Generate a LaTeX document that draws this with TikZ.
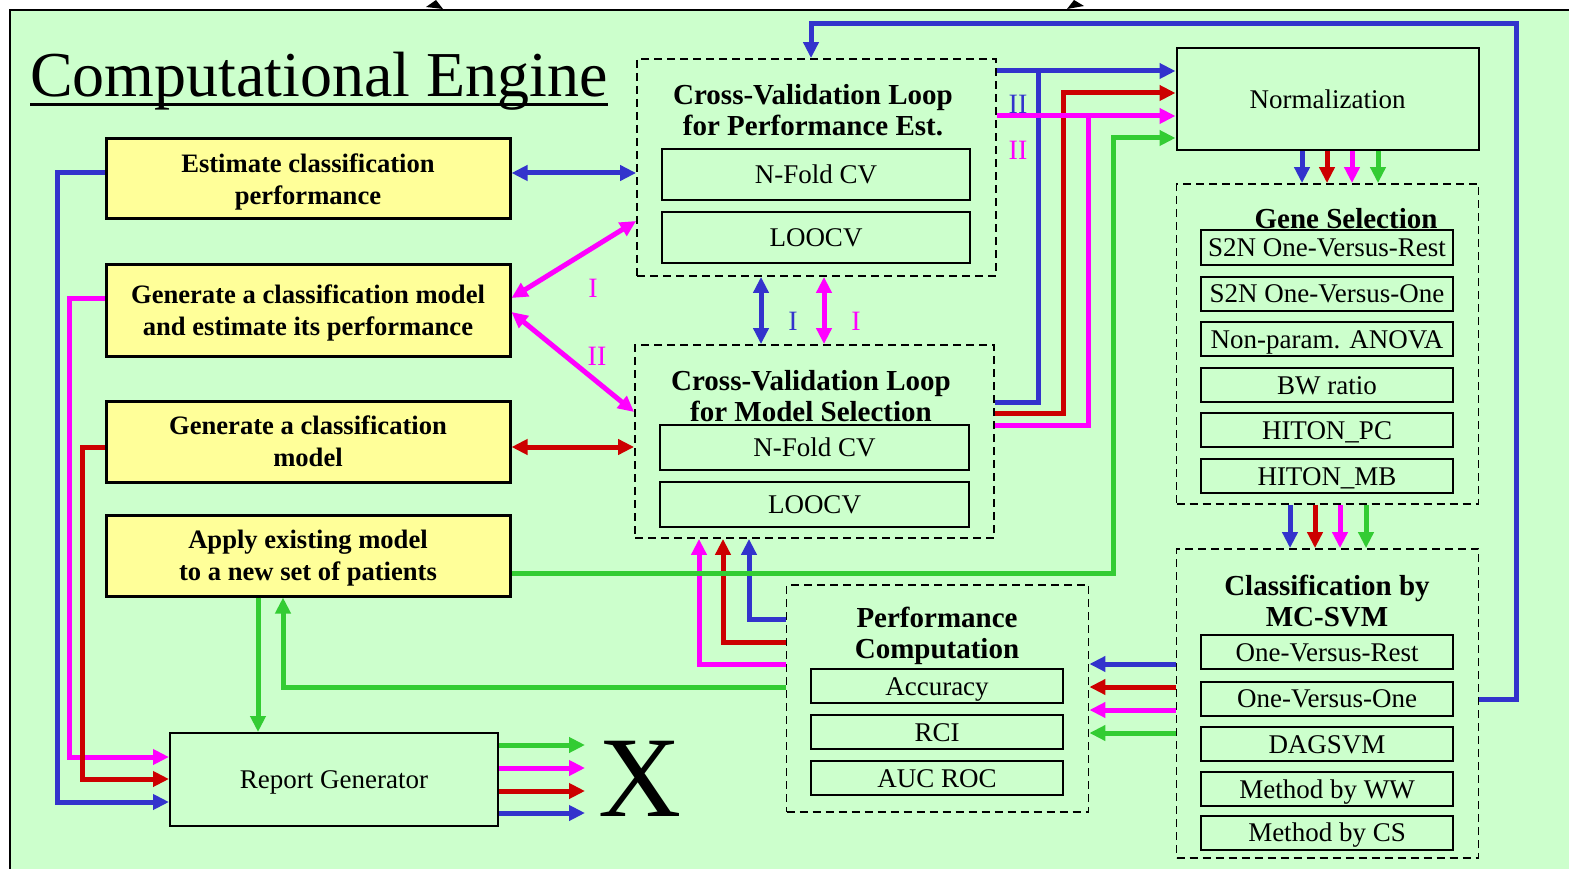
\documentclass[tikz,border=0pt]{standalone}
\usepackage{fontspec}
\setmainfont{Liberation Serif}
\usetikzlibrary{arrows.meta}
\definecolor{bgG}{HTML}{CCFFCC}
\definecolor{yelC}{HTML}{FFFF99}
\definecolor{cB}{HTML}{3333CC}
\definecolor{cR}{HTML}{CC0000}
\definecolor{cM}{HTML}{FF00FF}
\definecolor{cG}{HTML}{33CC33}
\begin{document}
\begin{tikzpicture}[x=1pt,y=-1pt,
  ybox/.style={draw, line width=3pt, fill=yelC, minimum width=404pt, inner sep=0pt, align=center,
    text depth=-3pt, font=\bfseries\fontsize{26.6}{32}\selectfont},
  dbox/.style={draw, line width=1.8pt, dash pattern=on 8pt off 5pt, inner sep=0pt},
  sbox/.style={draw, line width=2pt, inner sep=0pt, text height=18.5pt, text depth=-1.5pt,
    font=\fontsize{27}{30}\selectfont},
  ibox/.style={sbox, minimum width=252pt, minimum height=34pt},
  ttl/.style={inner sep=0pt, align=center, font=\bfseries\fontsize{29}{31}\selectfont},
  rom/.style={inner sep=0pt, font=\fontsize{28}{30}\selectfont},
  ln/.style={line width=5pt},
  ar/.style={line width=5pt, -{Triangle[length=16pt,width=15pt]}},
  dar/.style={line width=5pt, {Triangle[length=16pt,width=15pt]}-{Triangle[length=16pt,width=15pt]}}
]
\useasboundingbox (0,0) rectangle (1569,869);
\fill[white] (0,0) rectangle (1569,869);
\fill[bgG] (10,10) rectangle (1580,880);
\draw[line width=2pt] (10,880) -- (10,10) -- (1580,10);
% cut-off arrowheads at the top
\fill (426,7) -- (436,0) -- (443,9) -- cycle;
\fill (1067,9) -- (1074,0) -- (1084,6) -- cycle;

% title
\node[inner sep=0pt, anchor=base west, font=\fontsize{64}{70}\selectfont] (title) at (30,97) {Computational Engine};
\draw[line width=3pt] ([yshift=-8pt]title.base west) -- ([yshift=-8pt]title.base east);

% yellow boxes
\node[ybox, minimum height=80pt] (est) at (308,179) {Estimate classification\\performance};
\node[ybox, minimum height=92pt] (genest) at (308,310) {Generate a classification model\\and estimate its performance};
\node[ybox, minimum height=81pt] (gen) at (308,441.5) {Generate a classification\\model};
\node[ybox, minimum height=81pt] (apply) at (308,555.5) {Apply existing model\\to a new set of patients};

% CV loop for performance estimation
\node[dbox, minimum width=359pt, minimum height=217pt] (cvp) at (816.5,167.5) {};
\node[ttl] (cvpt) at (813,110) {Cross-Validation Loop\\for Performance Est.};
\node[sbox, minimum width=308pt, minimum height=51pt] (cvpn) at (816,174.5) {N-Fold CV};
\node[sbox, minimum width=308pt, minimum height=51pt] (cvpl) at (816,237.5) {LOOCV};

% CV loop for model selection
\node[dbox, minimum width=359pt, minimum height=193pt] (cvm) at (814.5,441.5) {};
\node[ttl] (cvmt) at (811,396) {Cross-Validation Loop\\for Model Selection};
\node[sbox, minimum width=309pt, minimum height=45pt] (cvmn) at (814.5,447.5) {N-Fold CV};
\node[sbox, minimum width=309pt, minimum height=45pt] (cvml) at (814.5,504.5) {LOOCV};

% normalization
\node[sbox, minimum width=302pt, minimum height=102pt] (norm) at (1327.5,99) {Normalization};

% gene selection
\node[dbox, minimum width=302pt, minimum height=320pt] (gs) at (1327.5,344) {};
\node[ttl] (gst) at (1346,219) {Gene Selection};
\node[ibox] (g1) at (1327,247.5) {S2N One-Versus-Rest};
\node[ibox] (g2) at (1327,293.5) {S2N One-Versus-One};
\node[ibox] (g3) at (1327,339) {Non-param. ANOVA};
\node[ibox] (g4) at (1327,385) {BW ratio};
\node[ibox] (g5) at (1327,430) {HITON\_PC};
\node[ibox] (g6) at (1327,476) {HITON\_MB};

% classification by MC-SVM
\node[dbox, minimum width=302pt, minimum height=309pt] (mc) at (1327.5,703.5) {};
\node[ttl] (mct) at (1327,601) {Classification by\\MC-SVM};
\node[ibox] (m1) at (1327,652) {One-Versus-Rest};
\node[ibox] (m2) at (1327,698.5) {One-Versus-One};
\node[ibox] (m3) at (1327,744) {DAGSVM};
\node[ibox] (m4) at (1327,789) {Method by WW};
\node[ibox] (m5) at (1327,832.5) {Method by CS};

% performance computation
\node[dbox, minimum width=302pt, minimum height=227pt] (perf) at (937.5,698.5) {};
\node[ttl] (perft) at (937,636) {Performance\\Computation};
\node[ibox] (p1) at (937,686) {Accuracy};
\node[ibox] (p2) at (937,732) {RCI};
\node[ibox] (p3) at (937,778) {AUC ROC};

% report generator and X
\node[sbox, minimum width=328pt, minimum height=93pt] (rep) at (334,779.5) {Report Generator};
\node[inner sep=0pt, font=\fontsize{115}{115}\selectfont] (X) at (640,779) {X};
\coordinate (xo) at (585,0);

% roman labels
\node[rom, text=cM] (l1) at (593,288) {I};
\node[rom, text=cM] (l2) at (597,356) {II};
\node[rom, text=cB] (l3) at (793,321) {I};
\node[rom, text=cM] (l4) at (856,321) {I};
\node[rom, text=cB] (l5) at (1018,104) {II};
\node[rom, text=cM] (l6) at (1018,150) {II};

% double arrows between boxes
\draw[dar, cB] (est.east |- 0,173) -- (cvp.west |- 0,173);
\draw[dar, cR] (gen.east |- 0,447) -- (cvm.west |- 0,447);
\draw[dar, cM] (genest.east |- 0,298) -- (cvp.west |- 0,221);
\draw[dar, cM] (genest.east |- 0,312) -- (cvm.west |- 0,412);
\draw[dar, cB] (cvp.south -| 761,0) -- (cvm.north -| 761,0);
\draw[dar, cM] (cvp.south -| 824,0) -- (cvm.north -| 824,0);

% left side to report generator
\draw[ar, cB] (est.west |- 0,173) -- (57,173) -- (57,802) -- (rep.west |- 0,802);
\draw[ar, cM] (genest.west |- 0,298) -- (69,298) -- (69,757) -- (rep.west |- 0,757);
\draw[ar, cR] (gen.west |- 0,447) -- (82,447) -- (82,779) -- (rep.west |- 0,779);

% report generator outputs
\draw[ar, cG] (rep.east |- 0,745) -- (xo |- 0,745);
\draw[ar, cM] (rep.east |- 0,768) -- (xo |- 0,768);
\draw[ar, cR] (rep.east |- 0,791) -- (xo |- 0,791);
\draw[ar, cB] (rep.east |- 0,813) -- (xo |- 0,813);

% CV loops to normalization
\draw[ar, cB] (cvp.east |- 0,71) -- (norm.west |- 0,71);
\draw[ln, cB] (cvm.east |- 0,402) -- (1038,402) -- (1038,71);
\draw[ar, cR] (cvm.east |- 0,413) -- (1063,413) -- (1063,93) -- (norm.west |- 0,93);
\draw[ar, cM] (cvp.east |- 0,116) -- (norm.west |- 0,116);
\draw[ln, cM] (cvm.east |- 0,425) -- (1088,425) -- (1088,116);

% normalization to gene selection
\draw[ar, cB] (norm.south -| 1302,0) -- (gs.north -| 1302,0);
\draw[ar, cR] (norm.south -| 1327,0) -- (gs.north -| 1327,0);
\draw[ar, cM] (norm.south -| 1352,0) -- (gs.north -| 1352,0);
\draw[ar, cG] (norm.south -| 1378,0) -- (gs.north -| 1378,0);

% gene selection to classification
\draw[ar, cB] (gs.south -| 1290,0) -- (mc.north -| 1290,0);
\draw[ar, cR] (gs.south -| 1315,0) -- (mc.north -| 1315,0);
\draw[ar, cM] (gs.south -| 1340,0) -- (mc.north -| 1340,0);
\draw[ar, cG] (gs.south -| 1366,0) -- (mc.north -| 1366,0);

% classification to performance computation
\draw[ar, cB] (mc.west |- 0,664) -- (perf.east |- 0,664);
\draw[ar, cR] (mc.west |- 0,687) -- (perf.east |- 0,687);
\draw[ar, cM] (mc.west |- 0,710) -- (perf.east |- 0,710);
\draw[ar, cG] (mc.west |- 0,733) -- (perf.east |- 0,733);

% classification back to CV loop for performance estimation
\draw[ar, cB] (mc.east |- 0,699) -- (1516,699) -- (1516,24) -- (811,24) -- (cvp.north -| 811,0);

% performance computation to CV loop for model selection
\draw[ar, cB] (perf.west |- 0,619) -- (749,619) -- (cvm.south -| 749,0);
\draw[ar, cR] (perf.west |- 0,642) -- (723,642) -- (cvm.south -| 723,0);
\draw[ar, cM] (perf.west |- 0,664) -- (699,664) -- (cvm.south -| 699,0);

% green paths
\draw[ar, cG] (apply.east |- 0,573) -- (1113,573) -- (1113,138) -- (norm.west |- 0,138);
\draw[ar, cG] (apply.south -| 258,0) -- (rep.north -| 258,0);
\draw[ar, cG] (perf.west |- 0,687) -- (283,687) -- (apply.south -| 283,0);
\end{tikzpicture}
\end{document}
